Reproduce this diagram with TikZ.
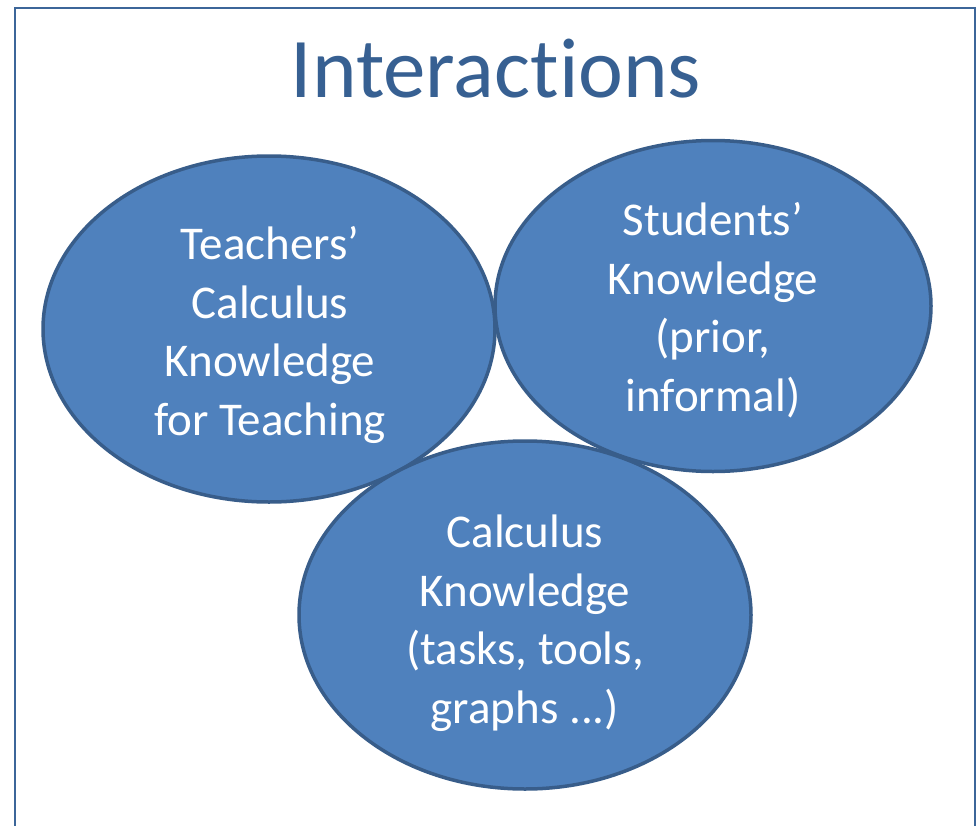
\documentclass[tikz,border=0pt]{standalone}
\usepackage{fontspec}
\setmainfont{Carlito}[Ligatures=NoCommon]
\usetikzlibrary{shapes.geometric}
\definecolor{ovalfill}{HTML}{4F81BD}
\definecolor{ovalline}{HTML}{385D8A}
\definecolor{titleblue}{HTML}{376092}
\definecolor{frameblue}{HTML}{3C6699}
\tikzset{
  oval/.style={ellipse, fill=ovalfill, draw=ovalline, line width=3.5pt, inner sep=0pt},
  ovaltext/.style={text=white, align=center, inner sep=0pt, font=\fontsize{47}{58.5}\selectfont},
  titletext/.style={text=titleblue, inner sep=0pt, font=\fontsize{85}{100}\selectfont}
}
\begin{document}
\begin{tikzpicture}[x=1pt,y=-1pt]
\useasboundingbox (0,0) rectangle (980,825);
\fill[white] (0,0) rectangle (980,825);
\coordinate (fbl) at (15,826);
\coordinate (ftl) at (15,8);
\coordinate (ftr) at (975,8);
\coordinate (fbr) at (975,826);
\draw[frameblue, line width=2.5pt] (fbl) -- (ftl) -- (ftr) -- (fbr);
\node[titletext, anchor=base] (title) at (496,97) {Interactions};
\node[oval, minimum width=452pt, minimum height=346pt] (teach) at (269,329) {};
\node[oval, minimum width=436pt, minimum height=331pt] (stud) at (713,306) {};
\node[oval, minimum width=452pt, minimum height=348pt] (calc) at (525,615) {};
\node[ovaltext] (teachtxt) at (270,335) {Teachers’\\Calculus\\Knowledge\\for Teaching};
\node[ovaltext] (studtxt) at (713,310) {Students’\\Knowledge\\(prior,\\informal)};
\node[ovaltext] (calctxt) at (525,623) {Calculus\\Knowledge\\(tasks, tools,\\graphs ...)};
\end{tikzpicture}
\end{document}
